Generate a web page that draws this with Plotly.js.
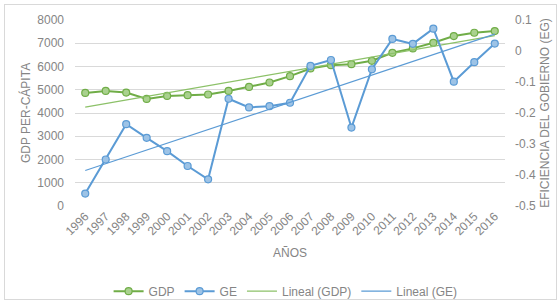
<!DOCTYPE html>
<html>
<head>
<meta charset="utf-8">
<script src="https://cdn.plot.ly/plotly-3.0.1.min.js"></script>
<style>
html,body{margin:0;padding:0;background:#fff;}
#wrap{position:relative;width:560px;height:302px;}
#chart{position:absolute;left:0;top:0;width:560px;height:302px;}
#frame{position:absolute;left:4px;top:4px;width:553px;height:296px;border:1px solid #d9d9d9;box-sizing:border-box;pointer-events:none;}
</style>
</head>
<body>
<div id="wrap"><div id="chart"></div><div id="frame"></div></div>
<script>
const years = ["1996","1997","1998","1999","2000","2001","2002","2003","2004","2005","2006","2007","2008","2009","2010","2011","2012","2013","2014","2015","2016"];
const gdp = [4864,4950,4880,4606,4735,4765,4795,4950,5123,5312,5584,5916,6059,6102,6245,6590,6779,7020,7309,7452,7525];
const ge = [-0.460,-0.350,-0.236,-0.280,-0.323,-0.371,-0.414,-0.154,-0.182,-0.178,-0.167,-0.048,-0.029,-0.247,-0.059,0.039,0.023,0.072,-0.099,-0.036,0.024];
const leftTicks = [0,1000,2000,3000,4000,5000,6000,7000,8000];
const leftTickText = ["0","1000","2000","3000","4000","5000","6000","7000","8000"];
const rightTicks = [-0.5,-0.4,-0.3,-0.2,-0.1,0,0.1];
const rightTickText = ["-0.5","-0.4","-0.3","-0.2","-0.1","0","0.1"];

function linfit(vals){
  const n = vals.length;
  let sx=0, sy=0, sxx=0, sxy=0;
  for(let i=0;i<n;i++){sx+=i;sy+=vals[i];sxx+=i*i;sxy+=i*vals[i];}
  const b = (n*sxy - sx*sy)/(n*sxx - sx*sx);
  const a = (sy - b*sx)/n;
  return vals.map((_,i)=>a+b*i);
}

const txt = '#858585';
const font = {family:'"Liberation Sans", Arial, sans-serif', size:12, color:txt};

const traces = [
  {x:years, y:gdp, name:'GDP', type:'scatter', mode:'lines+markers', yaxis:'y',
   line:{color:'#70AD47', width:2}, marker:{size:7, color:'#A9D18E', line:{color:'#70AD47', width:1.2}}},
  {x:years, y:ge, name:'GE', type:'scatter', mode:'lines+markers', yaxis:'y2',
   line:{color:'#5B9BD5', width:2}, marker:{size:7, color:'#9DC3E6', line:{color:'#5B9BD5', width:1.2}}},
  {x:years, y:linfit(gdp), name:'Lineal (GDP)', type:'scatter', mode:'lines', yaxis:'y',
   line:{color:'#8CC168', width:1.3}},
  {x:years, y:linfit(ge), name:'Lineal (GE)', type:'scatter', mode:'lines', yaxis:'y2',
   line:{color:'#5B9BD5', width:1.2}}
];

const layout = {
  width:560, height:302,
  margin:{l:75, r:55, t:20, b:96, pad:0},
  paper_bgcolor:'rgba(0,0,0,0)', plot_bgcolor:'rgba(0,0,0,0)',
  font:font,
  showlegend:true,
  xaxis:{type:'category', range:[-0.5,20.5], tickangle:-45, showgrid:false, zeroline:false,
    showline:false, ticks:'', tickfont:font, automargin:false,
    title:{text:'AÑOS', font:font, standoff:11}},
  yaxis:{range:[0,8000], tickvals:leftTicks, ticktext:leftTickText, showgrid:true, gridcolor:'#d9d9d9', gridwidth:1,
    zeroline:false, showline:false, ticks:'', ticklabelstandoff:10, tickfont:font, automargin:false,
    title:{text:'GDP PER-CÁPITA', font:font, standoff:4}},
  yaxis2:{range:[-0.5,0.1], overlaying:'y', side:'right', tickvals:rightTicks, ticktext:rightTickText,
    showgrid:false, zeroline:false, showline:false, ticks:'', ticklabelstandoff:9, tickfont:font, automargin:false,
    title:{text:'EFICIENCIA DEL GOBIERNO (EG)', font:font, standoff:5}},
  legend:{orientation:'h', x:0.51, xanchor:'center', xref:'container', y:0.036, yref:'container', yanchor:'middle',
    font:font, bgcolor:'rgba(0,0,0,0)', itemwidth:30, tracegroupgap:0}
};

Plotly.newPlot('chart', traces, layout, {displayModeBar:false, staticPlot:true});
</script>
</body>
</html>
